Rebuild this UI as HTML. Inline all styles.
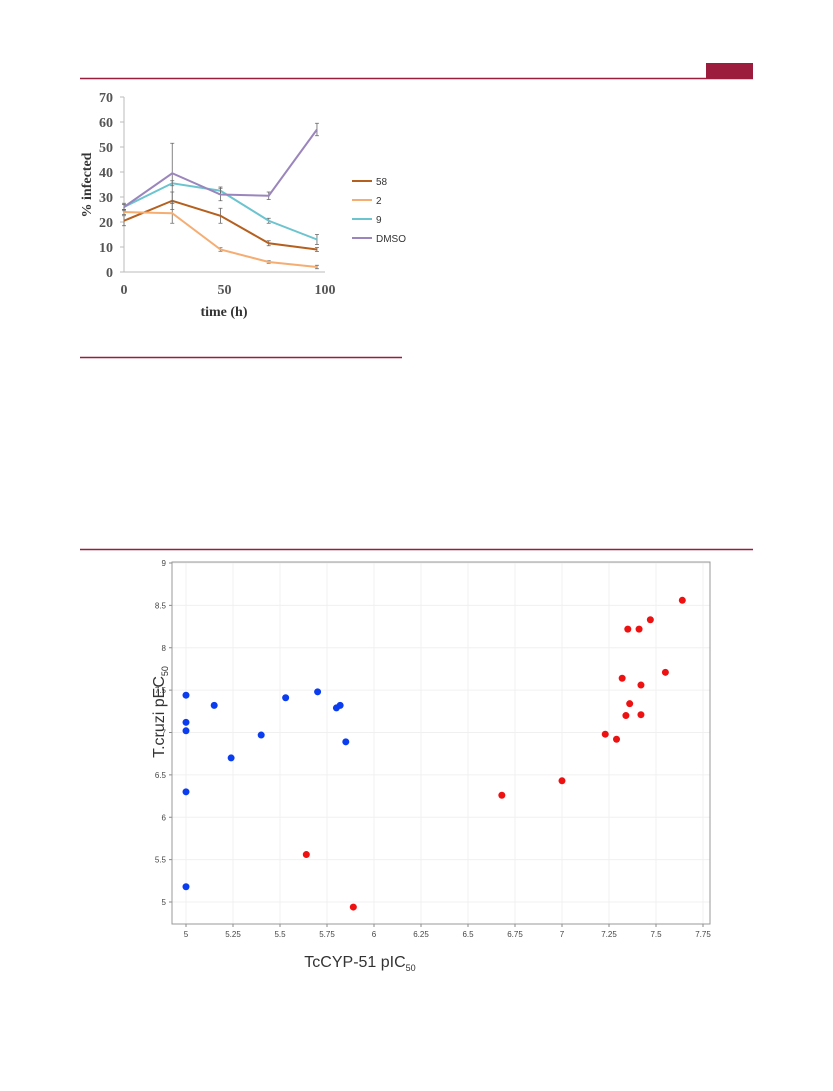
<!DOCTYPE html>
<html><head><meta charset="utf-8"><style>
body{margin:0;background:#fff;width:833px;height:1091px;overflow:hidden;position:relative;font-family:"Liberation Sans",sans-serif}
svg{position:absolute;left:0;top:0}
</style></head><body>
<svg width="833" height="1091">
<rect x="706" y="63" width="47" height="15" fill="#9b1c3c"/>
<line x1="80" y1="78.5" x2="753" y2="78.5" stroke="#9b1c3c" stroke-width="1.5"/>
<line x1="80" y1="357.5" x2="402" y2="357.5" stroke="#9b1c3c" stroke-width="1.5"/>
<line x1="80" y1="549.5" x2="753" y2="549.5" stroke="#9b1c3c" stroke-width="1.5"/>
<g id="line-chart"></g>
<g id="scatter"></g>
</svg>
<script>
const NS="http://www.w3.org/2000/svg";
function mk(p,t,a){const e=document.createElementNS(NS,t);for(const k in a)e.setAttribute(k,a[k]);p.appendChild(e);return e;}
// ---- line chart data
const times=[0,24,48,72,96];
const s58=[20.5,28.5,22.5,11.5,9];
const s2=[24,23.5,9,4,2];
const s9=[26,35.5,32.5,20.5,13];
const sDMSO=[26,39.5,31,30.5,57];
const e58=[2,3.5,3,1,0.8];
const e2=[1,4,0.7,0.5,0.7];
const e9=[1,1,1.5,1,2];
const eDMSO=[1.5,12,2.5,1.5,2.5];
const yTicks=[0,10,20,30,40,50,60,70];
const xTicks=[0,50,100];
const seriesNames=["58","2","9","DMSO"];
const lc=document.getElementById('line-chart');
const X=v=>124+v*(325-124)/100, Y=v=>272-v*(272-97)/70;
mk(lc,'line',{x1:124,y1:97,x2:124,y2:272,stroke:'#bbb'});
mk(lc,'line',{x1:124,y1:272,x2:325,y2:272,stroke:'#bbb'});
yTicks.forEach(v=>{mk(lc,'line',{x1:120,x2:124,y1:Y(v),y2:Y(v),stroke:'#bbb'});
 const t=mk(lc,'text',{x:113,y:Y(v)+5,'text-anchor':'end','font-size':14,'font-weight':'bold',fill:'#555','font-family':'Liberation Serif,serif'});t.textContent=v;
 
 });
xTicks.forEach(v=>{const t=mk(lc,'text',{x:X(v),y:294,'text-anchor':'middle','font-size':14,'font-weight':'bold',fill:'#555','font-family':'Liberation Serif,serif'});t.textContent=v;
 
 });
let tt=mk(lc,'text',{x:224,y:316,'text-anchor':'middle','font-size':14,'font-weight':'bold',fill:'#333','font-family':'Liberation Serif,serif'});tt.textContent='time (h)';


tt=mk(lc,'text',{x:0,y:0,'text-anchor':'middle','font-size':14,'font-weight':'bold',fill:'#333','font-family':'Liberation Serif,serif',transform:'translate(91,185) rotate(-90)'});tt.textContent='% infected';


const ser=[[s58,e58,'#b5601f'],[s2,e2,'#f5ad72'],[s9,e9,'#6cc4cf'],[sDMSO,eDMSO,'#9a86bc']];
ser.forEach((s,i)=>{
 s[0].forEach((v,j)=>{const x=X(times[j]);mk(lc,'path',{d:`M${x},${Y(v-s[1][j])}V${Y(v+s[1][j])}M${x-2},${Y(v-s[1][j])}h4M${x-2},${Y(v+s[1][j])}h4`,stroke:'#666','stroke-width':0.8,fill:'none'});});
 const p=mk(lc,'polyline',{points:s[0].map((v,j)=>X(times[j])+','+Y(v)).join(' '),fill:'none',stroke:s[2],'stroke-width':2});
 
 
 const ly=181+i*19;
 const l=mk(lc,'line',{x1:352,x2:372,y1:ly,y2:ly,stroke:s[2],'stroke-width':2});
 
 
 const t=mk(lc,'text',{x:376,y:ly+4,'font-size':10,fill:'#333'});t.textContent=seriesNames[i];
 
 
});
// ---- scatter data
const blueX=[5,5,5,5,5,5.15,5.24,5.4,5.53,5.7,5.8,5.82,5.85];
const blueY=[7.44,7.12,7.02,6.3,5.18,7.32,6.7,6.97,7.41,7.48,7.29,7.32,6.89];
const redX=[5.64,5.89,6.68,7,7.23,7.29,7.32,7.34,7.36,7.35,7.41,7.42,7.42,7.47,7.55,7.64];
const redY=[5.56,4.94,6.26,6.43,6.98,6.92,7.64,7.2,7.34,8.22,8.22,7.56,7.21,8.33,7.71,8.56];
const sxTicks=[5,5.25,5.5,5.75,6,6.25,6.5,6.75,7,7.25,7.5,7.75];
const syTicks=[5,5.5,6,6.5,7,7.5,8,8.5,9];
const sc=document.getElementById('scatter');
const SX=v=>186+(v-5)*(703-186)/2.75, SY=v=>902-(v-5)*(902-563)/4;
mk(sc,'rect',{x:172,y:562,width:538,height:362,fill:'#fff',stroke:'#999'});
sxTicks.forEach(v=>{mk(sc,'line',{x1:SX(v),x2:SX(v),y1:562,y2:924,stroke:'#f0f0f0'});
 mk(sc,'line',{x1:SX(v),x2:SX(v),y1:924,y2:927,stroke:'#888'});
 const t=mk(sc,'text',{x:SX(v),y:937,'text-anchor':'middle','font-size':8,fill:'#444'});t.textContent=String(v);
 
 });
syTicks.forEach(v=>{mk(sc,'line',{x1:172,x2:710,y1:SY(v),y2:SY(v),stroke:'#f0f0f0'});
 mk(sc,'line',{x1:169,x2:172,y1:SY(v),y2:SY(v),stroke:'#888'});
 const t=mk(sc,'text',{x:166,y:SY(v)+3,'text-anchor':'end','font-size':8,fill:'#444'});t.textContent=String(v);
 
 });
mk(sc,'rect',{x:172,y:562,width:538,height:362,fill:'none',stroke:'#999'});
blueX.forEach((x,i)=>{const c=mk(sc,'circle',{cx:SX(x),cy:SY(blueY[i]),r:3.5,fill:'#0a3cf0'});
 
 });
redX.forEach((x,i)=>{const c=mk(sc,'circle',{cx:SX(x),cy:SY(redY[i]),r:3.5,fill:'#ee1111'});
 
 });
tt=mk(sc,'text',{x:360,y:967,'text-anchor':'middle','font-size':16,fill:'#333'});tt.innerHTML='TcCYP-51 pIC<tspan font-size="9" dy="4">50</tspan>';


tt=mk(sc,'text',{x:0,y:0,'text-anchor':'middle','font-size':16,fill:'#333',transform:'translate(164,712) rotate(-90)'});tt.innerHTML='T.cruzi pEC<tspan font-size="9" dy="4">50</tspan>';


</script>
</body></html>
